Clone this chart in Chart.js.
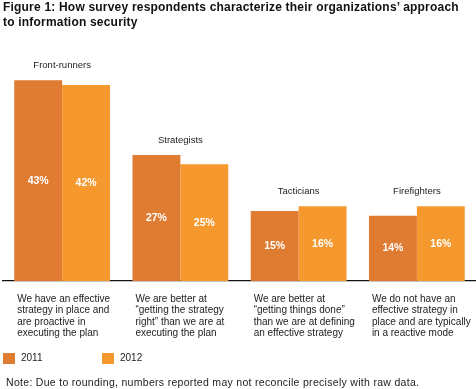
<!DOCTYPE html>
<html>
<head>
<meta charset="utf-8">
<script src="https://cdn.jsdelivr.net/npm/chart.js@4.4.1/dist/chart.umd.min.js"></script>
<style>
  body { margin: 0; background: #fff; font-family: "Liberation Sans", Arial, sans-serif; }
  #wrap { position: relative; width: 476px; height: 389px; overflow: hidden; }
  #chart { position: absolute; left: 0; top: 0; }
  .title { position: absolute; left: 3px; top: 0px; font-size: 12px; letter-spacing: 0.2px; font-weight: bold; line-height: 15px; color: #111; white-space: nowrap; }
  .legend { position: absolute; top: 352px; left: 3px; font-size: 10px; color: #222; }
  .legend span.item { position: absolute; white-space: nowrap; }
  .legend i { display: inline-block; width: 12px; height: 11px; vertical-align: middle; margin-right: 6px; }
  .note { position: absolute; left: 6px; top: 376px; font-size: 10.5px; letter-spacing: 0.3px; color: #222; white-space: nowrap; }
</style>
</head>
<body>
<div id="wrap">
  <canvas id="chart" width="476" height="389"></canvas>
  <div class="title">Figure 1: How survey respondents characterize their organizations’ approach<br>to information security</div>
  <div class="legend" id="legend"></div>
  <div class="note">Note: Due to rounding, numbers reported may not reconcile precisely with raw data.</div>
</div>
<script>
// DATA
const groups = ['Front-runners', 'Strategists', 'Tacticians', 'Firefighters'];
const descriptions = [
	['We have an effective', 'strategy in place and', 'are proactive in', 'executing the plan'],
	['We are better at', '“getting the strategy', 'right” than we are at', 'executing the plan'],
	['We are better at', '“getting things done”', 'than we are at defining', 'an effective strategy'],
	['We do not have an', 'effective strategy in', 'place and are typically', 'in a reactive mode']
];
const years = ['2011', '2012'];
const values2011 = [43, 27, 15, 14];
const values2012 = [42, 25, 16, 16];
const colors = ['#E07B32', '#F5992F'];

const ctx = document.getElementById('chart').getContext('2d');

// LABELS ON AND ABOVE BARS
const barLabels = {
	id: 'barLabels',
	afterDatasetsDraw(chart) {
		const c = chart.ctx;
		c.save();
		c.textBaseline = 'middle';
		c.textAlign = 'center';
		// percentages in bars
		c.fillStyle = '#fff';
		c.font = 'bold 10.5px "Liberation Sans", Arial, sans-serif';
		chart.data.datasets.forEach((ds, di) => {
			chart.getDatasetMeta(di).data.forEach((bar, i) => {
				c.fillText(ds.data[i] + '%', bar.x, (bar.y + bar.base) / 2);
			});
		});
		// group names above
		c.fillStyle = '#222';
		c.font = '9.5px "Liberation Sans", Arial, sans-serif';
		groups.forEach((g, i) => {
			const a = chart.getDatasetMeta(0).data[i];
			const b = chart.getDatasetMeta(1).data[i];
			const top = Math.min(a.y, b.y);
			c.fillText(g, (a.x + b.x) / 2, top - 15);
		});
		c.restore();
	}
};

const my_chart = new Chart(ctx, {
	type: 'bar',
	data: {
		labels: descriptions,
		datasets: [{
			label: years[0],
			data: values2011,
			backgroundColor: colors[0],
			categoryPercentage: 0.81,
			barPercentage: 1
		}, {
			label: years[1],
			data: values2012,
			backgroundColor: colors[1],
			categoryPercentage: 0.81,
			barPercentage: 1
		}]
	},
	options: {
		responsive: false,
		animation: false,
		layout: { padding: { left: 3, right: 0, top: 71, bottom: 0 } },
		plugins: {
			legend: { display: false },
			tooltip: { enabled: false }
		},
		scales: {
			x: {
				grid: { display: false, drawTicks: false },
				border: { display: true, color: '#111', width: 1.2 },
				ticks: {
					align: 'start',
					labelOffset: -45,
					padding: 12,
					color: '#222',
					autoSkip: false,
					maxRotation: 0,
					font: { family: '"Liberation Sans", Arial, sans-serif', size: 10, lineHeight: 1.15 }
				},
				afterFit(scale) {
					scale.height = 108;
					scale.paddingLeft = 0;
					scale.paddingRight = 0;
				}
			},
			y: {
				display: false,
				min: 0,
				max: 45
			}
		}
	},
	plugins: [barLabels]
});

// LEGEND
const legend = document.getElementById('legend');
years.forEach((y, i) => {
	const item = document.createElement('span');
	item.className = 'item';
	item.style.left = (i * 99) + 'px';
	item.innerHTML = `<i style="background:${colors[i]}"></i>${y}`;
	legend.appendChild(item);
});
</script>
</body>
</html>
